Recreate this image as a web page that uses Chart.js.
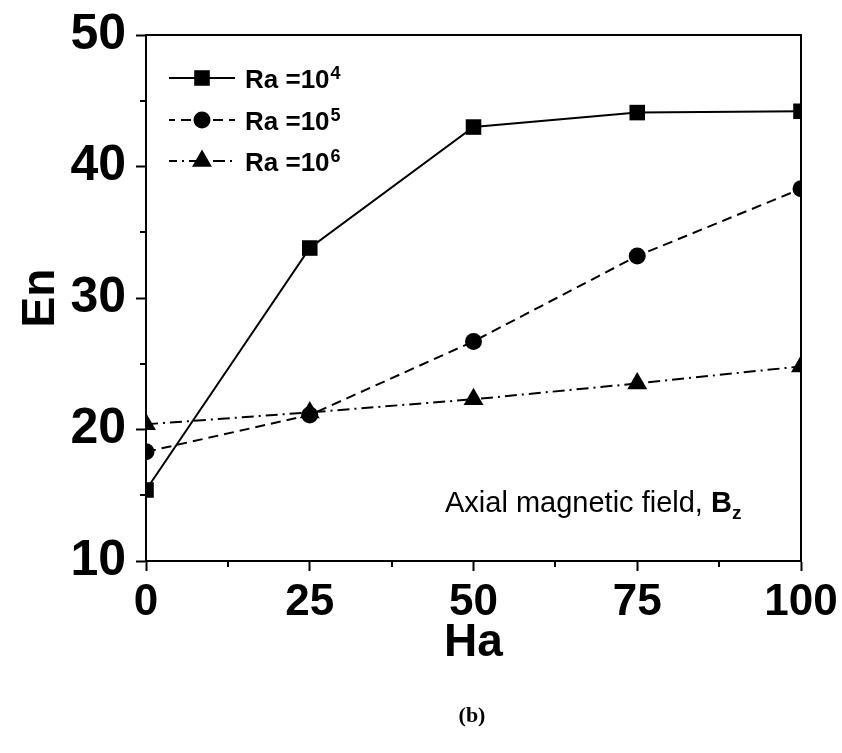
<!DOCTYPE html>
<html>
<head>
<meta charset="utf-8">
<script src="https://cdn.jsdelivr.net/npm/chart.js@4.4.0/dist/chart.umd.min.js"></script>
<style>
  html, body { margin: 0; padding: 0; background: #fff; }
  #wrap { width: 842px; height: 753px; }
</style>
</head>
<body>
<div id="wrap"><canvas id="enChart" width="842" height="753"></canvas></div>
<script>
// Ha on the x axis, En values
const haValues = [0, 25, 50, 75, 100];
const enRa4 = [15.4, 33.8, 43.0, 44.1, 44.2];
const enRa5 = [18.3, 21.1, 26.7, 33.2, 38.3];
const enRa6 = [20.4, 21.3, 22.3, 23.5, 24.8];
const raExponents = ['4', '5', '6'];
const xMinorTicks = [12.5, 37.5, 62.5, 87.5];
const yMinorTicks = [15, 25, 35, 45];

const SANS = '"Liberation Sans", Arial, sans-serif';

document.addEventListener('DOMContentLoaded', () => {
  initEnChart();
});

function toPoints(values) {
  return haValues.map((ha, i) => ({ x: ha, y: values[i] }));
}

// frame, minor ticks, legend and text notes
const figureExtras = {
  id: 'figureExtras',
  afterDraw(chart) {
    const ctx = chart.ctx;
    const area = chart.chartArea;
    const xs = chart.scales.x;
    const ys = chart.scales.y;

    ctx.save();
    ctx.strokeStyle = '#000';
    ctx.lineWidth = 2;
    ctx.strokeRect(area.left, area.top, area.right - area.left, area.bottom - area.top);

    ctx.beginPath();
    xMinorTicks.forEach(v => {
      const px = Math.round(xs.getPixelForValue(v));
      ctx.moveTo(px, area.bottom);
      ctx.lineTo(px, area.bottom + 6);
    });
    yMinorTicks.forEach(v => {
      const py = Math.round(ys.getPixelForValue(v));
      ctx.moveTo(area.left - 6, py);
      ctx.lineTo(area.left, py);
    });
    ctx.stroke();

    // legend
    const rows = [78, 120, 161];
    chart.data.datasets.forEach((ds, i) => {
      const y = rows[i];
      ctx.save();
      ctx.strokeStyle = '#000';
      ctx.lineWidth = 2;
      ctx.setLineDash(ds.borderDash || []);
      ctx.lineDashOffset = i === 0 ? 0 : 4;
      ctx.beginPath();
      ctx.moveTo(169, y);
      ctx.lineTo(235, y);
      ctx.stroke();
      ctx.restore();

      ctx.fillStyle = '#000';
      ctx.strokeStyle = '#000';
      Chart.helpers.drawPoint(ctx, {
        pointStyle: ds.pointStyle,
        radius: ds.pointRadius,
        rotation: 0,
        borderWidth: 0
      }, 202, y);

      ctx.textBaseline = 'alphabetic';
      ctx.textAlign = 'left';
      ctx.font = 'bold 26px ' + SANS;
      const label = 'Ra =10';
      ctx.fillText(label, 245, y + 10);
      const w = ctx.measureText(label).width;
      ctx.font = 'bold 18px ' + SANS;
      ctx.fillText(raExponents[i], 245 + w + 1, y + 1);
    });

    // annotation
    ctx.font = '29px ' + SANS;
    const note = 'Axial magnetic field, ';
    ctx.fillText(note, 445, 512);
    let nx = 445 + ctx.measureText(note).width;
    ctx.font = 'bold 29px ' + SANS;
    ctx.fillText('B', nx, 512);
    nx += ctx.measureText('B').width;
    ctx.font = 'bold 19px ' + SANS;
    ctx.fillText('z', nx, 519);

    // panel label
    ctx.font = 'bold 22px "Liberation Serif", "Times New Roman", serif';
    ctx.textAlign = 'center';
    ctx.fillText('(b)', 472, 722);
    ctx.restore();
  }
};

function initEnChart() {
  const ctx = document.getElementById('enChart').getContext('2d');

  const data = {
    datasets: [
      {
        label: 'Ra =10^4',
        data: toPoints(enRa4),
        borderColor: '#000',
        backgroundColor: '#000',
        borderWidth: 2,
        pointStyle: 'rect',
        pointRadius: 11,
        pointBorderWidth: 0
      },
      {
        label: 'Ra =10^5',
        data: toPoints(enRa5),
        borderColor: '#000',
        backgroundColor: '#000',
        borderWidth: 2,
        borderDash: [10, 6],
        pointStyle: 'circle',
        pointRadius: 8.5,
        pointBorderWidth: 0
      },
      {
        label: 'Ra =10^6',
        data: toPoints(enRa6),
        borderColor: '#000',
        backgroundColor: '#000',
        borderWidth: 2,
        borderDash: [12, 5, 2, 5],
        pointStyle: 'triangle',
        pointRadius: 11.5,
        pointBorderWidth: 0
      }
    ]
  };

  new Chart(ctx, {
    type: 'line',
    data: data,
    plugins: [figureExtras],
    options: {
      responsive: false,
      animation: false,
      layout: { padding: { left: 0, top: 35, right: 41, bottom: 0 } },
      plugins: {
        legend: { display: false },
        tooltip: { enabled: false }
      },
      elements: { line: { tension: 0 } },
      scales: {
        x: {
          type: 'linear',
          min: 0,
          max: 100,
          afterFit(scale) {
            scale.height = 192;
            scale.paddingLeft = 0;
            scale.paddingRight = 0;
          },
          border: { display: true, color: '#000', width: 2 },
          grid: { drawOnChartArea: false, tickLength: 10, tickColor: '#000', tickWidth: 2 },
          ticks: {
            stepSize: 25,
            color: '#000',
            padding: 5,
            maxRotation: 0,
            font: { family: SANS, size: 44, weight: 'bold' }
          },
          title: {
            display: true,
            text: 'Ha',
            color: '#000',
            font: { family: SANS, size: 46, weight: 'bold' },
            padding: { top: 0, bottom: 82 }
          }
        },
        y: {
          min: 10,
          max: 50,
          afterFit(scale) {
            scale.width = 146;
            scale.paddingTop = 0;
            scale.paddingBottom = 0;
          },
          border: { display: true, color: '#000', width: 2 },
          grid: { drawOnChartArea: false, tickLength: 10, tickColor: '#000', tickWidth: 2 },
          ticks: {
            stepSize: 10,
            color: '#000',
            padding: 10,
            font: { family: SANS, size: 50, weight: 'bold' }
          },
          title: {
            display: true,
            text: 'En',
            color: '#000',
            font: { family: SANS, size: 46, weight: 'bold' },
            padding: { top: 14, bottom: 0 }
          }
        }
      }
    }
  });
}
</script>
</body>
</html>
